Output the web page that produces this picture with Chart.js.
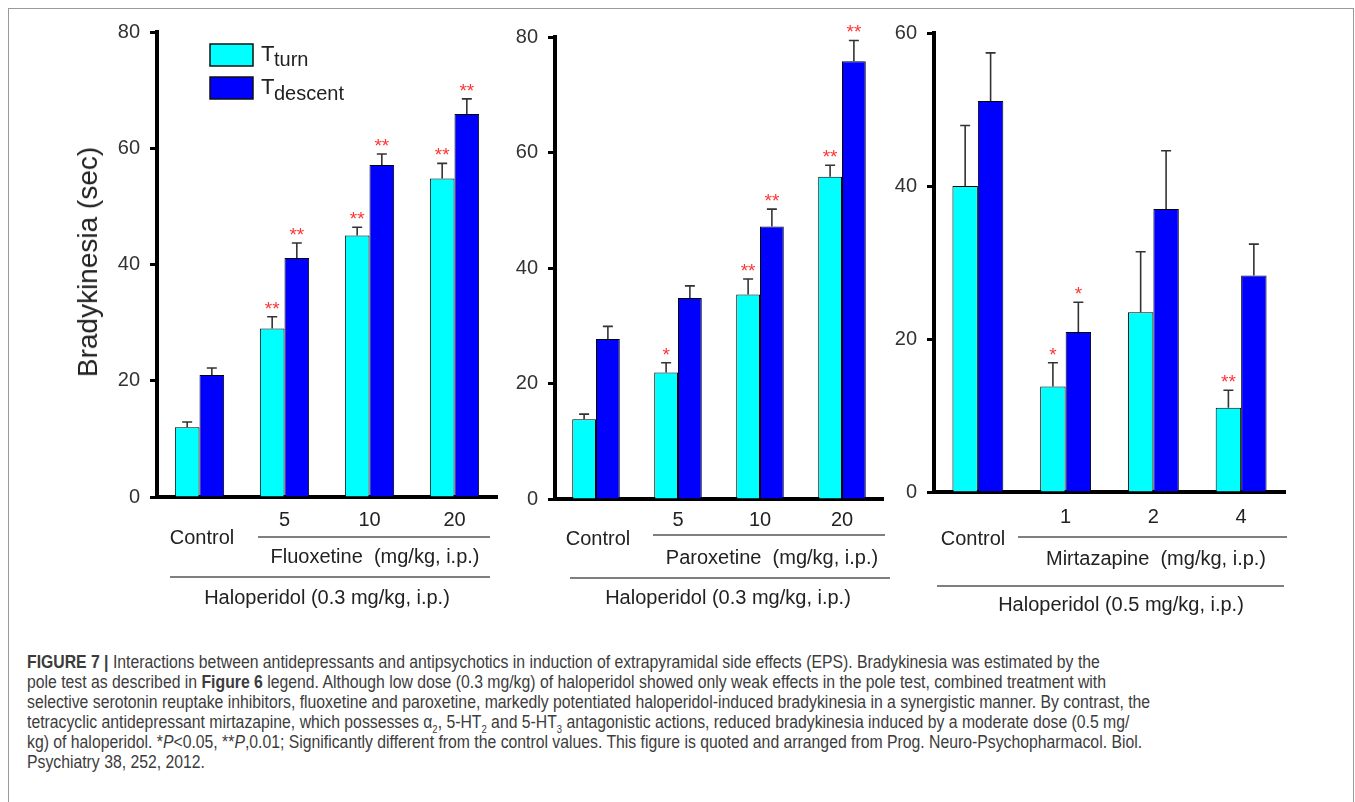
<!DOCTYPE html>
<html>
<head>
<meta charset="utf-8">
<script src="https://cdn.jsdelivr.net/npm/chart.js@4.4.1/dist/chart.umd.min.js"></script>
<style>
body { margin:0; background:#fff; width:1355px; height:802px; overflow:hidden; position:relative; font-family:"Liberation Sans", Arial, sans-serif; }
#frame { position:absolute; left:8px; top:8px; width:1346px; height:900px; border:1px solid #9a9a9a; box-sizing:border-box; }
canvas { position:absolute; top:10px; }
#ytitle { position:absolute; left:88px; top:262px; transform:translate(-50%,-50%) rotate(-90deg); font-size:28px; color:#222; white-space:nowrap; }
#caption { position:absolute; left:27px; top:652px; font-size:17.5px; line-height:20px; color:#3c3c3c; }
#caption div { white-space:nowrap; transform-origin:0 0; height:20px; }
#caption sub { font-size:10.5px; line-height:0; }
</style>
</head>
<body>
<div id="frame"></div>
<canvas id="p1"></canvas>
<canvas id="p2"></canvas>
<canvas id="p3"></canvas>
<div id="ytitle">Bradykinesia (sec)</div>
<div id="caption">
  <div><b>FIGURE 7 |</b> Interactions between antidepressants and antipsychotics in induction of extrapyramidal side effects (EPS). Bradykinesia was estimated by the</div>
  <div>pole test as described in <b>Figure 6</b> legend. Although low dose (0.3 mg/kg) of haloperidol showed only weak effects in the pole test, combined treatment with</div>
  <div>selective serotonin reuptake inhibitors, fluoxetine and paroxetine, markedly potentiated haloperidol-induced bradykinesia in a synergistic manner. By contrast, the</div>
  <div>tetracyclic antidepressant mirtazapine, which possesses α<sub>2</sub>, 5-HT<sub>2</sub> and 5-HT<sub>3</sub> antagonistic actions, reduced bradykinesia induced by a moderate dose (0.5 mg/</div>
  <div>kg) of haloperidol. *<i>P</i>&lt;0.05, **<i>P</i>,0.01; Significantly different from the control values. This figure is quoted and arranged from Prog. Neuro-Psychopharmacol. Biol.</div>
  <div>Psychiatry 38, 252, 2012.</div>
</div>
<script>
// datos
const fluoxDoses = ['Control', '5', '10', '20'];
const fluoxTurn = [12, 29, 45, 54.8];
const fluoxTurnErr = [0.9, 2.0, 1.4, 2.6];
const fluoxDescent = [21, 41.1, 57.1, 65.9];
const fluoxDescentErr = [1.2, 2.6, 1.9, 2.6];
const fluoxTurnSig = ['', '**', '**', '**'];
const fluoxDescentSig = ['', '**', '**', '**'];
const fluoxTicks = [0, 20, 40, 60, 80];

const paroxDoses = ['Control', '5', '10', '20'];
const paroxTurn = [13.8, 21.9, 35.4, 55.8];
const paroxTurnErr = [0.9, 1.7, 2.7, 2.0];
const paroxDescent = [27.7, 34.8, 47.2, 75.8];
const paroxDescentErr = [2.2, 2.1, 3.0, 3.6];
const paroxTurnSig = ['', '*', '**', '**'];
const paroxDescentSig = ['', '', '**', '**'];
const paroxTicks = [0, 20, 40, 60, 80];

const mirtaDoses = ['Control', '1', '2', '4'];
const mirtaTurn = [40, 13.8, 23.5, 11.0];
const mirtaTurnErr = [7.9, 3.1, 7.9, 2.3];
const mirtaDescent = [51.1, 20.9, 37.0, 28.3];
const mirtaDescentErr = [6.3, 3.9, 7.6, 4.1];
const mirtaTurnSig = ['', '*', '', '**'];
const mirtaDescentSig = ['', '*', '', ''];
const mirtaTicks = [0, 20, 40, 60];

const seriesNames = ['turn', 'descent'];
const groupTexts = [
  ['Fluoxetine  (mg/kg, i.p.)', 'Haloperidol (0.3 mg/kg, i.p.)'],
  ['Paroxetine  (mg/kg, i.p.)', 'Haloperidol (0.3 mg/kg, i.p.)'],
  ['Mirtazapine  (mg/kg, i.p.)', 'Haloperidol (0.5 mg/kg, i.p.)']
];

const FONT = '"Liberation Sans", Arial, sans-serif';
const CYAN = '#00ffff', BLUE = '#0000ff';

// posiciones en coordenadas de pagina
const panels = [
  { id: 'p1', left: 40, width: 465, axisL: 157, axisR: 497, top: 32, bottom: 497,
    doses: fluoxDoses, turn: fluoxTurn, turnErr: fluoxTurnErr, desc: fluoxDescent, descErr: fluoxDescentErr,
    turnSig: fluoxTurnSig, descSig: fluoxDescentSig, ticks: fluoxTicks, texts: groupTexts[0],
    doseY: 520, ctrl: [202, 538], line1: [258, 490, 537], g1: [375, 557], line2: [170, 490, 577], g2: [327, 598], legend: true },
  { id: 'p2', left: 500, width: 392, axisL: 555, axisR: 883, top: 37, bottom: 499,
    doses: paroxDoses, turn: paroxTurn, turnErr: paroxTurnErr, desc: paroxDescent, descErr: paroxDescentErr,
    turnSig: paroxTurnSig, descSig: paroxDescentSig, ticks: paroxTicks, texts: groupTexts[1],
    doseY: 520, ctrl: [598, 539], line1: [653, 885, 535], g1: [772, 558], line2: [570, 890, 578], g2: [728, 598] },
  { id: 'p3', left: 884, width: 410, axisL: 934, axisR: 1285, top: 33, bottom: 492,
    doses: mirtaDoses, turn: mirtaTurn, turnErr: mirtaTurnErr, desc: mirtaDescent, descErr: mirtaDescentErr,
    turnSig: mirtaTurnSig, descSig: mirtaDescentSig, ticks: mirtaTicks, texts: groupTexts[2],
    doseY: 517, ctrl: [973, 539], line1: [1018, 1287, 537], g1: [1156, 559], line2: [937, 1284, 586], g2: [1121, 605] }
];

const H = 610, TOP = 10;

function makePanel(p) {
  const canvas = document.getElementById(p.id);
  canvas.width = p.width;
  canvas.height = H;
  canvas.style.left = p.left + 'px';
  const px = x => x - p.left;
  const py = y => y - TOP;

  const decor = {
    id: 'decor',
    afterDatasetsDraw(chart) {
      const ctx = chart.ctx, ys = chart.scales.y;
      const errs = [p.turnErr, p.descErr], sigs = [p.turnSig, p.descSig];
      ctx.save();
      [0, 1].forEach(d => {
        const vals = chart.data.datasets[d].data;
        chart.getDatasetMeta(d).data.forEach((bar, i) => {
          const yt = ys.getPixelForValue(vals[i] + errs[d][i]);
          ctx.strokeStyle = '#333';
          ctx.lineWidth = 1.6;
          ctx.beginPath();
          ctx.moveTo(bar.x, bar.y);
          ctx.lineTo(bar.x, yt);
          ctx.moveTo(bar.x - 5, yt);
          ctx.lineTo(bar.x + 5, yt);
          ctx.stroke();
          if (sigs[d][i]) {
            ctx.fillStyle = '#ff3333';
            ctx.font = '19px ' + FONT;
            ctx.textAlign = 'center';
            ctx.textBaseline = 'alphabetic';
            ctx.fillText(sigs[d][i], bar.x, yt - 2);
          }
        });
      });
      ctx.restore();
    },
    afterDraw(chart) {
      const ctx = chart.ctx, xs = chart.scales.x;
      ctx.save();
      ctx.fillStyle = '#222';
      ctx.font = '20px ' + FONT;
      ctx.textAlign = 'center';
      ctx.textBaseline = 'middle';
      for (let i = 1; i < p.doses.length; i++) {
        ctx.fillText(p.doses[i], xs.getPixelForValue(i), py(p.doseY));
      }
      ctx.fillText(p.doses[0], px(p.ctrl[0]), py(p.ctrl[1]));
      ctx.fillText(p.texts[0], px(p.g1[0]), py(p.g1[1]));
      ctx.fillText(p.texts[1], px(p.g2[0]), py(p.g2[1]));
      ctx.strokeStyle = '#555';
      ctx.lineWidth = 1.5;
      ctx.beginPath();
      ctx.moveTo(px(p.line1[0]), py(p.line1[2])); ctx.lineTo(px(p.line1[1]), py(p.line1[2]));
      ctx.moveTo(px(p.line2[0]), py(p.line2[2])); ctx.lineTo(px(p.line2[1]), py(p.line2[2]));
      ctx.stroke();

      if (p.legend) {
        const cols = [CYAN, BLUE];
        cols.forEach((c, k) => {
          const bx = px(210), by = py(44 + k * 33);
          ctx.fillStyle = c;
          ctx.fillRect(bx, by, 43, 22);
          ctx.strokeStyle = '#111';
          ctx.lineWidth = 1.5;
          ctx.strokeRect(bx, by, 43, 22);
          ctx.fillStyle = '#222';
          ctx.textAlign = 'left';
          ctx.textBaseline = 'alphabetic';
          ctx.font = '22px ' + FONT;
          ctx.fillText('T', px(261), py(61 + k * 33));
          ctx.font = '20px ' + FONT;
          ctx.fillText(seriesNames[k], px(274), py(66 + k * 34));
        });
      }
      ctx.restore();
    }
  };

  return new Chart(canvas, {
    type: 'bar',
    data: {
      labels: p.doses,
      datasets: [
        { label: 'T turn', data: p.turn, backgroundColor: CYAN, borderColor: '#000', borderWidth: 1,
          categoryPercentage: 0.58, barPercentage: 1.0 },
        { label: 'T descent', data: p.desc, backgroundColor: BLUE, borderColor: '#000', borderWidth: 1,
          categoryPercentage: 0.58, barPercentage: 1.0 }
      ]
    },
    options: {
      responsive: false,
      animation: false,
      layout: { padding: { left: 0, top: p.top - TOP, right: p.left + p.width - p.axisR, bottom: 0 } },
      plugins: { legend: { display: false }, tooltip: { enabled: false } },
      scales: {
        x: {
          offset: true,
          grid: { display: false },
          ticks: { display: false },
          border: { display: true, width: 4, color: '#000' },
          afterFit: s => { s.height = H - (p.bottom - TOP); }
        },
        y: {
          min: 0,
          max: p.ticks[p.ticks.length - 1],
          afterBuildTicks: s => { s.ticks = p.ticks.map(v => ({ value: v })); },
          afterFit: s => { s.width = p.axisL - p.left; },
          ticks: { color: '#333', padding: 10, font: { family: FONT, size: 20 } },
          grid: { display: true, drawOnChartArea: false, drawTicks: true, tickLength: 7, tickWidth: 3, tickColor: '#000' },
          border: { display: true, width: 4, color: '#000' }
        }
      }
    },
    plugins: [decor]
  });
}

panels.forEach(makePanel);

// ajustar el ancho de la leyenda del pie
const capLines = document.querySelectorAll('#caption div');
const target = 1123;
const w = capLines[2].scrollWidth;
const k = target / w;
capLines.forEach(d => { d.style.transform = 'scaleX(' + k + ')'; });
</script>
</body>
</html>
